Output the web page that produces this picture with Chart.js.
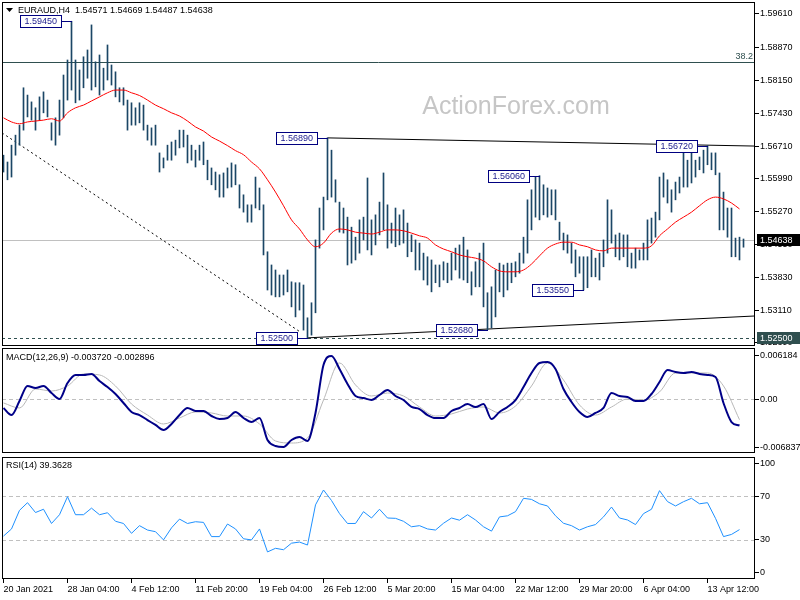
<!DOCTYPE html>
<html>
<head>
<meta charset="utf-8">
<title>EURAUD H4</title>
<script src="https://cdn.jsdelivr.net/npm/chart.js@4.4.1/dist/chart.umd.min.js"></script>
<style>
  html, body { margin: 0; padding: 0; background: #fff; }
  #wrap { position: relative; width: 800px; height: 600px; overflow: hidden; background: #fff; }
  #wrap canvas { position: absolute; left: 0; }
</style>
</head>
<body>
<div id="wrap">
  <canvas id="price" width="800" height="347" style="top:0"></canvas>
  <canvas id="macd" width="800" height="108" style="top:347px"></canvas>
  <canvas id="rsi" width="800" height="145" style="top:455px"></canvas>
</div>
<script>
// ---- data (H4 bars, one entry per bar) ----
const highs = [
  1.5651, 1.5636, 1.5673, 1.5695, 1.5717, 1.5799, 1.5783, 1.5768, 1.5755, 1.5779,
  1.5790, 1.5772, 1.5722, 1.5733, 1.5772, 1.5827, 1.5860, 1.5945, 1.5860, 1.5838,
  1.5867, 1.5882, 1.5937, 1.5856, 1.5871, 1.5842, 1.5893, 1.5849, 1.5834, 1.5799,
  1.5799, 1.5772, 1.5766, 1.5755, 1.5766, 1.5761, 1.5717, 1.5711, 1.5717, 1.5656,
  1.5645, 1.5673, 1.5680, 1.5684, 1.5706, 1.5706, 1.5695, 1.5673, 1.5662, 1.5673,
  1.5680, 1.5640, 1.5623, 1.5614, 1.5608, 1.5612, 1.5623, 1.5634, 1.5630, 1.5586,
  1.5564, 1.5542, 1.5542, 1.5603, 1.5579, 1.5542, 1.5439, 1.5410, 1.5399, 1.5388,
  1.5388, 1.5399, 1.5373, 1.5371, 1.5371, 1.5366, 1.5294, 1.5327, 1.5465, 1.5535,
  1.5559, 1.5689, 1.5662, 1.5597, 1.5548, 1.5535, 1.5515, 1.5493, 1.5471, 1.5509,
  1.5515, 1.5601, 1.5509, 1.5520, 1.5548, 1.5612, 1.5542, 1.5502, 1.5535, 1.5520,
  1.5531, 1.5502, 1.5476, 1.5465, 1.5458, 1.5436, 1.5428, 1.5421, 1.5410, 1.5410,
  1.5417, 1.5414, 1.5436, 1.5447, 1.5454, 1.5471, 1.5443, 1.5395, 1.5417, 1.5436,
  1.5458, 1.5349, 1.5362, 1.5399, 1.5414, 1.5410, 1.5414, 1.5414, 1.5417, 1.5436,
  1.5471, 1.5553, 1.5575, 1.5603, 1.5606, 1.5586, 1.5579, 1.5575, 1.5575, 1.5504,
  1.5480, 1.5476, 1.5458, 1.5443, 1.5428, 1.5428, 1.5428, 1.5443, 1.5425, 1.5436,
  1.5465, 1.5553, 1.5531, 1.5476, 1.5480, 1.5476, 1.5476, 1.5436, 1.5447, 1.5443,
  1.5458, 1.5509, 1.5513, 1.5526, 1.5603, 1.5612, 1.5597, 1.5575, 1.5592, 1.5603,
  1.5658, 1.5640, 1.5656, 1.5640, 1.5647, 1.5662, 1.5672, 1.5656, 1.5656, 1.5612,
  1.5570, 1.5535, 1.5535, 1.5469, 1.5471, 1.5467
];
const lows = [
  1.5614, 1.5597, 1.5603, 1.5651, 1.5673, 1.5706, 1.5735, 1.5728, 1.5706, 1.5728,
  1.5744, 1.5735, 1.5684, 1.5673, 1.5695, 1.5733, 1.5772, 1.5794, 1.5766, 1.5772,
  1.5799, 1.5820, 1.5794, 1.5801, 1.5783, 1.5794, 1.5816, 1.5805, 1.5779, 1.5768,
  1.5761, 1.5706, 1.5717, 1.5717, 1.5722, 1.5706, 1.5684, 1.5673, 1.5673, 1.5614,
  1.5623, 1.5640, 1.5640, 1.5651, 1.5667, 1.5669, 1.5634, 1.5640, 1.5625, 1.5640,
  1.5630, 1.5597, 1.5586, 1.5575, 1.5559, 1.5559, 1.5579, 1.5581, 1.5586, 1.5535,
  1.5526, 1.5504, 1.5504, 1.5535, 1.5531, 1.5432, 1.5355, 1.5344, 1.5340, 1.5340,
  1.5344, 1.5351, 1.5318, 1.5296, 1.5311, 1.5267, 1.5250, 1.5256, 1.5305, 1.5447,
  1.5487, 1.5553, 1.5559, 1.5548, 1.5482, 1.5480, 1.5410, 1.5414, 1.5421, 1.5436,
  1.5465, 1.5443, 1.5432, 1.5454, 1.5476, 1.5487, 1.5447, 1.5458, 1.5450, 1.5454,
  1.5458, 1.5428, 1.5439, 1.5399, 1.5399, 1.5377, 1.5366, 1.5351, 1.5371, 1.5362,
  1.5377, 1.5371, 1.5377, 1.5399, 1.5381, 1.5377, 1.5371, 1.5344, 1.5362, 1.5362,
  1.5318, 1.5268, 1.5272, 1.5296, 1.5351, 1.5340, 1.5355, 1.5371, 1.5384, 1.5392,
  1.5414, 1.5436, 1.5487, 1.5515, 1.5509, 1.5520, 1.5515, 1.5520, 1.5509, 1.5465,
  1.5443, 1.5436, 1.5414, 1.5384, 1.5392, 1.5355, 1.5360, 1.5384, 1.5384, 1.5377,
  1.5406, 1.5436, 1.5458, 1.5428, 1.5421, 1.5428, 1.5406, 1.5403, 1.5403, 1.5421,
  1.5421, 1.5421, 1.5458, 1.5471, 1.5509, 1.5559, 1.5546, 1.5526, 1.5553, 1.5568,
  1.5581, 1.5581, 1.5590, 1.5603, 1.5619, 1.5612, 1.5630, 1.5619, 1.5608, 1.5487,
  1.5487, 1.5471, 1.5428, 1.5428, 1.5421, 1.5449
];
// moving average, read every 2nd bar
const ma = [
  1.5733, 1.5724, 1.5720, 1.5724, 1.5726, 1.5728, 1.5731, 1.5726, 1.5744, 1.5755,
  1.5761, 1.5770, 1.5779, 1.5788, 1.5794, 1.5794, 1.5788, 1.5782, 1.5772, 1.5761,
  1.5753, 1.5744, 1.5737, 1.5726, 1.5713, 1.5704, 1.5691, 1.5682, 1.5672, 1.5661,
  1.5652, 1.5636, 1.5621, 1.5597, 1.5570, 1.5540, 1.5509, 1.5489, 1.5465, 1.5450,
  1.5458, 1.5480, 1.5489, 1.5487, 1.5482, 1.5480, 1.5478, 1.5482, 1.5487, 1.5487,
  1.5485, 1.5480, 1.5474, 1.5469, 1.5454, 1.5445, 1.5439, 1.5432, 1.5428, 1.5425,
  1.5419, 1.5406, 1.5397, 1.5395, 1.5395, 1.5399, 1.5412, 1.5430, 1.5447, 1.5456,
  1.5460, 1.5460, 1.5454, 1.5450, 1.5443, 1.5441, 1.5447, 1.5447, 1.5447, 1.5447,
  1.5447, 1.5452, 1.5474, 1.5489, 1.5504, 1.5515, 1.5526, 1.5540, 1.5553, 1.5559,
  1.5555, 1.5546, 1.5533
];
// MACD main, every 2nd bar
const macdMain = [
  -0.00123, -0.00223, -0.00024, 0.00189, 0.00160, 0.00189, 0.00089, 0.00004, 0.00231, 0.00345,
  0.00345, 0.00359, 0.00259, 0.00174, 0.00075, -0.00052, -0.00180, -0.00223, -0.00294, -0.00364,
  -0.00435, -0.00350, -0.00223, -0.00123, -0.00166, -0.00166, -0.00237, -0.00279, -0.00265, -0.00180,
  -0.00265, -0.00322, -0.00265, -0.00577, -0.00662, -0.00676, -0.00577, -0.00535, -0.00591, -0.00194,
  0.00486, 0.00614, 0.00430, 0.00217, 0.00047, 0.00018, -0.00010, 0.00061, 0.00132, 0.00047,
  -0.00010, -0.00109, -0.00138, -0.00223, -0.00265, -0.00265, -0.00166, -0.00123, -0.00067, -0.00109,
  -0.00067, -0.00279, -0.00180, -0.00109, -0.00010, 0.00174, 0.00373, 0.00515, 0.00529, 0.00430,
  0.00146, -0.00038, -0.00180, -0.00251, -0.00194, -0.00123, 0.00089, 0.00047, 0.00033, -0.00024,
  -0.00024, 0.00075, 0.00245, 0.00415, 0.00387, 0.00373, 0.00387, 0.00359, 0.00345, 0.00316,
  -0.00052, -0.00322, -0.00372
];
// MACD signal, every 4th bar
const macdSignal = [
  -0.00052, -0.00123, 0.00146, 0.00118, 0.00189, 0.00359, 0.00345, 0.00189, -0.00067, -0.00223,
  -0.00350, -0.00265, -0.00180, -0.00194, -0.00237, -0.00237, -0.00350, -0.00591, -0.00620, -0.00549,
  -0.00010, 0.00515, 0.00203, 0.00047, 0.00089, 0.00047, -0.00109, -0.00237, -0.00208, -0.00138,
  -0.00109, -0.00194, -0.00095, 0.00189, 0.00515, 0.00274, -0.00081, -0.00223, -0.00109, 0.00004,
  -0.00010, 0.00104, 0.00373, 0.00373, 0.00373, 0.00189, -0.00290
];
// RSI(14), every 2nd bar
const rsi = [
  33.5, 40, 57, 64, 55, 58, 45, 53, 69.5, 53,
  53, 59, 53, 54.8, 47, 45, 36, 43, 39, 37.5,
  30, 41, 49, 45, 46.6, 46, 33, 33, 44.5, 40,
  31, 30, 40, 19, 22.3, 21, 27, 28, 25.3, 62,
  75.6, 66, 54, 45, 45, 55.8, 50, 58, 50, 49.7,
  47, 42, 43, 40, 39, 45.2, 50, 48, 53, 48.2,
  42, 38, 51, 52, 55.8, 68, 67, 63, 61, 52,
  45.2, 43, 39, 42, 44, 51, 60, 50, 48.2, 44,
  54, 58, 75, 65, 61, 64.9, 68, 63, 64, 49.7,
  33, 35, 39.4
];

const dateLabels = ['20 Jan 2021', '28 Jan 04:00', '4 Feb 12:00', '11 Feb 20:00', '19 Feb 04:00',
  '26 Feb 12:00', '5 Mar 20:00', '15 Mar 04:00', '22 Mar 12:00', '29 Mar 20:00', '6 Apr 04:00', '13 Apr 12:00'];
const BARS_PER_LABEL = 16;
const priceTicks = [1.5961, 1.5887, 1.5815, 1.5743, 1.5671, 1.5599, 1.5527, 1.5455, 1.5383, 1.5311, 1.5239];
const macdTicks = [0.006184, 0, -0.006837];
const macdTickLabels = ['0.006184', '0.00', '-0.006837'];
const rsiTicks = [100, 70, 30, 0];
const rsiLevels = [70, 30];

const ohlc = [1.54571, 1.54669, 1.54487, 1.54638];
const fibLevel = 1.5856;
const supportLevel = 1.5250;
const lastClose = 1.54638;
const noteIdx = [17, 81, 134, 121, 76, 145, 176];
const notePrice = [1.5945, 1.5689, 1.5606, 1.5268, 1.5250, 1.5355, 1.5672];
const upperTrend = [[81, 1.5689], [187.875, 1.5671]];
const lowerTrend = [[76, 1.5250], [187.875, 1.5298]];
const dottedTrend = [[-0.375, 1.5700], [74, 1.5264]];

// ---- shared settings ----
const X_MIN = -0.375, X_MAX = 187.875;
const FONT = { family: 'Liberation Sans', size: 9 };
const FONT_CSS = '9px "Liberation Sans", Arial, sans-serif';
const BAR_COLOR = '#1b4666';

function fixYAxis(scale) {
  scale.width = 45;
  scale.paddingTop = 0; scale.paddingBottom = 0;
}

function yAxis(min, max, ticks, fmt) {
  return {
    position: 'right', min, max,
    afterFit: fixYAxis,
    afterBuildTicks: s => { s.ticks = ticks.map(v => ({ value: v })); },
    ticks: { font: FONT, color: '#000', padding: 1, autoSkip: false, callback: fmt },
    grid: { drawOnChartArea: false, drawTicks: true, tickLength: 4, color: '#000' },
    border: { display: false }
  };
}

function hiddenX() {
  return { type: 'linear', min: X_MIN, max: X_MAX, offset: false, display: false };
}

const frame = {
  id: 'frame',
  afterDraw(chart) {
    const { ctx, chartArea: a } = chart;
    ctx.save();
    ctx.strokeStyle = '#000';
    ctx.lineWidth = 1;
    ctx.strokeRect(a.left + 0.5, a.top + 0.5, a.right - a.left - 1, a.bottom - a.top - 1);
    ctx.restore();
  }
};

function hLine(chart, value, color, dash) {
  const { ctx, chartArea: a } = chart;
  const y = Math.round(chart.scales.y.getPixelForValue(value)) + 0.5;
  ctx.save();
  ctx.strokeStyle = color;
  ctx.lineWidth = 1;
  ctx.setLineDash(dash || []);
  ctx.beginPath();
  ctx.moveTo(a.left, y);
  ctx.lineTo(a.right, y);
  ctx.stroke();
  ctx.restore();
}

function panelTitle(text) {
  return {
    id: 'panelTitle',
    afterDraw(chart) {
      const { ctx } = chart;
      ctx.save();
      ctx.font = FONT_CSS;
      ctx.fillStyle = '#000';
      ctx.textBaseline = 'middle';
      ctx.fillText(text, 6, 10.5);
      ctx.restore();
    }
  };
}

const baseOptions = (padding) => ({
  responsive: false,
  animation: false,
  events: [],
  layout: { autoPadding: false, padding },
  plugins: { legend: { display: false }, tooltip: { enabled: false } }
});

// ---- price panel ----
const pricePlugin = {
  id: 'priceDecor',
  beforeDatasetsDraw(chart) {
    const { ctx } = chart;
    ctx.save();
    ctx.font = '25px "Liberation Sans", Arial, sans-serif';
    ctx.fillStyle = '#c6c6c6';
    ctx.textAlign = 'center';
    ctx.fillText('ActionForex.com', 516, 114);
    ctx.restore();
    hLine(chart, lastClose, '#c0c0c0');
    hLine(chart, fibLevel, '#2f4f4f');
    hLine(chart, supportLevel, '#2f4f4f', [3, 3]);
  },
  afterDatasetsDraw(chart) {
    const { ctx, scales: { x, y }, chartArea: a } = chart;
    ctx.save();
    ctx.font = FONT_CSS;
    ctx.textBaseline = 'middle';
    // fib label
    ctx.fillStyle = '#2f4f4f';
    ctx.textAlign = 'right';
    ctx.fillText('38.2', a.right - 2, Math.round(y.getPixelForValue(fibLevel)) - 5);
    ctx.textAlign = 'left';
    // price notes
    noteIdx.forEach((idx, k) => {
      const px = Math.round(x.getPixelForValue(idx));
      const py = Math.round(y.getPixelForValue(notePrice[k])) + 0.5;
      const text = notePrice[k].toFixed(5);
      const w = Math.ceil(ctx.measureText(text).width) + 9;
      const right = px - 10;
      const left = right - w;
      ctx.strokeStyle = '#000080';
      ctx.lineWidth = 1;
      ctx.beginPath();
      ctx.moveTo(right, py);
      ctx.lineTo(px, py);
      ctx.stroke();
      ctx.fillStyle = '#fff';
      ctx.fillRect(left, py - 6, w, 12);
      ctx.strokeRect(left + 0.5, py - 6, w - 1, 12);
      ctx.fillStyle = '#1a1a8c';
      ctx.fillText(text, left + 4.5, py + 0.5);
    });
    ctx.restore();
  },
  afterDraw(chart) {
    const { ctx, scales: { y }, chartArea: a } = chart;
    ctx.save();
    ctx.font = FONT_CSS;
    ctx.textBaseline = 'middle';
    // current price and support tags on the axis
    [[lastClose, '#000'], [supportLevel, '#2f4f4f']].forEach(([v, bg]) => {
      const py = Math.round(y.getPixelForValue(v));
      ctx.fillStyle = bg;
      ctx.fillRect(a.right + 2, py - 6, 43, 12);
      ctx.fillStyle = '#fff';
      ctx.fillText(v.toFixed(5), a.right + 5, py + 0.5);
    });
    // title
    ctx.fillStyle = '#000';
    ctx.beginPath();
    ctx.moveTo(6, 8); ctx.lineTo(13, 8); ctx.lineTo(9.5, 12);
    ctx.closePath();
    ctx.fill();
    ctx.fillText('EURAUD,H4  ' + ohlc.map(v => v.toFixed(5)).join(' '), 18, 10.5);
    ctx.restore();
  }
};

const lineDs = (pairs, extra) => Object.assign({
  type: 'line',
  data: pairs.map(p => ({ x: p[0], y: p[1] })),
  borderColor: '#000', borderWidth: 1, pointRadius: 0, order: 2
}, extra || {});

new Chart(document.getElementById('price'), {
  type: 'bar',
  data: {
    datasets: [
      {
        type: 'line', data: ma.map((v, k) => ({ x: k * 2, y: v })),
        borderColor: '#ff0000', borderWidth: 1, pointRadius: 0,
        cubicInterpolationMode: 'monotone', order: 0
      },
      {
        type: 'bar', data: highs.map((h, i) => ({ x: i, y: [lows[i], h] })),
        backgroundColor: BAR_COLOR, borderWidth: 0, barThickness: 1, order: 1
      },
      lineDs(upperTrend),
      lineDs(lowerTrend),
      lineDs(dottedTrend, { borderDash: [2, 3] })
    ]
  },
  options: Object.assign(baseOptions({ left: 2, right: 0, top: 2, bottom: 1 }), {
    scales: {
      x: hiddenX(),
      y: yAxis(1.52321, 1.59873, priceTicks, v => v.toFixed(5))
    }
  }),
  plugins: [pricePlugin, frame]
});

// ---- MACD panel ----
new Chart(document.getElementById('macd'), {
  type: 'line',
  data: {
    datasets: [
      {
        data: macdMain.map((v, k) => ({ x: k * 2, y: v })),
        borderColor: '#000088', borderWidth: 2, pointRadius: 0,
        cubicInterpolationMode: 'monotone', order: 0
      },
      {
        data: macdSignal.map((v, k) => ({ x: k * 4, y: v })),
        borderColor: '#b8b8b8', borderWidth: 1, pointRadius: 0,
        cubicInterpolationMode: 'monotone', order: 1
      }
    ]
  },
  options: Object.assign(baseOptions({ left: 2, right: 0, top: 1, bottom: 2 }), {
    scales: {
      x: hiddenX(),
      y: yAxis(-0.007615, 0.007274, macdTicks, v => macdTickLabels[macdTicks.indexOf(v)])
    }
  }),
  plugins: [{
    id: 'zero',
    beforeDatasetsDraw(chart) { hLine(chart, 0, '#c0c0c0', [4, 3]); }
  }, panelTitle('MACD(12,26,9) -0.003720 -0.002896'), frame]
});

// ---- RSI panel ----
new Chart(document.getElementById('rsi'), {
  type: 'line',
  data: {
    datasets: [{
      data: rsi.map((v, k) => ({ x: k * 2, y: v })),
      borderColor: '#1e90ff', borderWidth: 1, pointRadius: 0
    }]
  },
  options: Object.assign(baseOptions({ left: 2, right: 0, top: 2, bottom: 0 }), {
    scales: {
      x: {
        type: 'linear', min: X_MIN, max: X_MAX, offset: false,
        afterBuildTicks: s => { s.ticks = dateLabels.map((_, k) => ({ value: k * BARS_PER_LABEL })); },
        afterFit: s => { s.height = 21; s.paddingLeft = 0; s.paddingRight = 0; },
        ticks: {
          font: FONT, color: '#000', align: 'start', maxRotation: 0, autoSkip: false, padding: 1,
          callback: v => dateLabels[Math.round(v / BARS_PER_LABEL)]
        },
        grid: { drawOnChartArea: false, drawTicks: true, tickLength: 4, color: '#000' },
        border: { display: false }
      },
      y: yAxis(-5.76, 105.76, rsiTicks, v => String(v))
    }
  }),
  plugins: [{
    id: 'levels',
    beforeDatasetsDraw(chart) { rsiLevels.forEach(l => hLine(chart, l, '#c0c0c0', [4, 3])); }
  }, panelTitle('RSI(14) 39.3628'), frame]
});
</script>
</body>
</html>
